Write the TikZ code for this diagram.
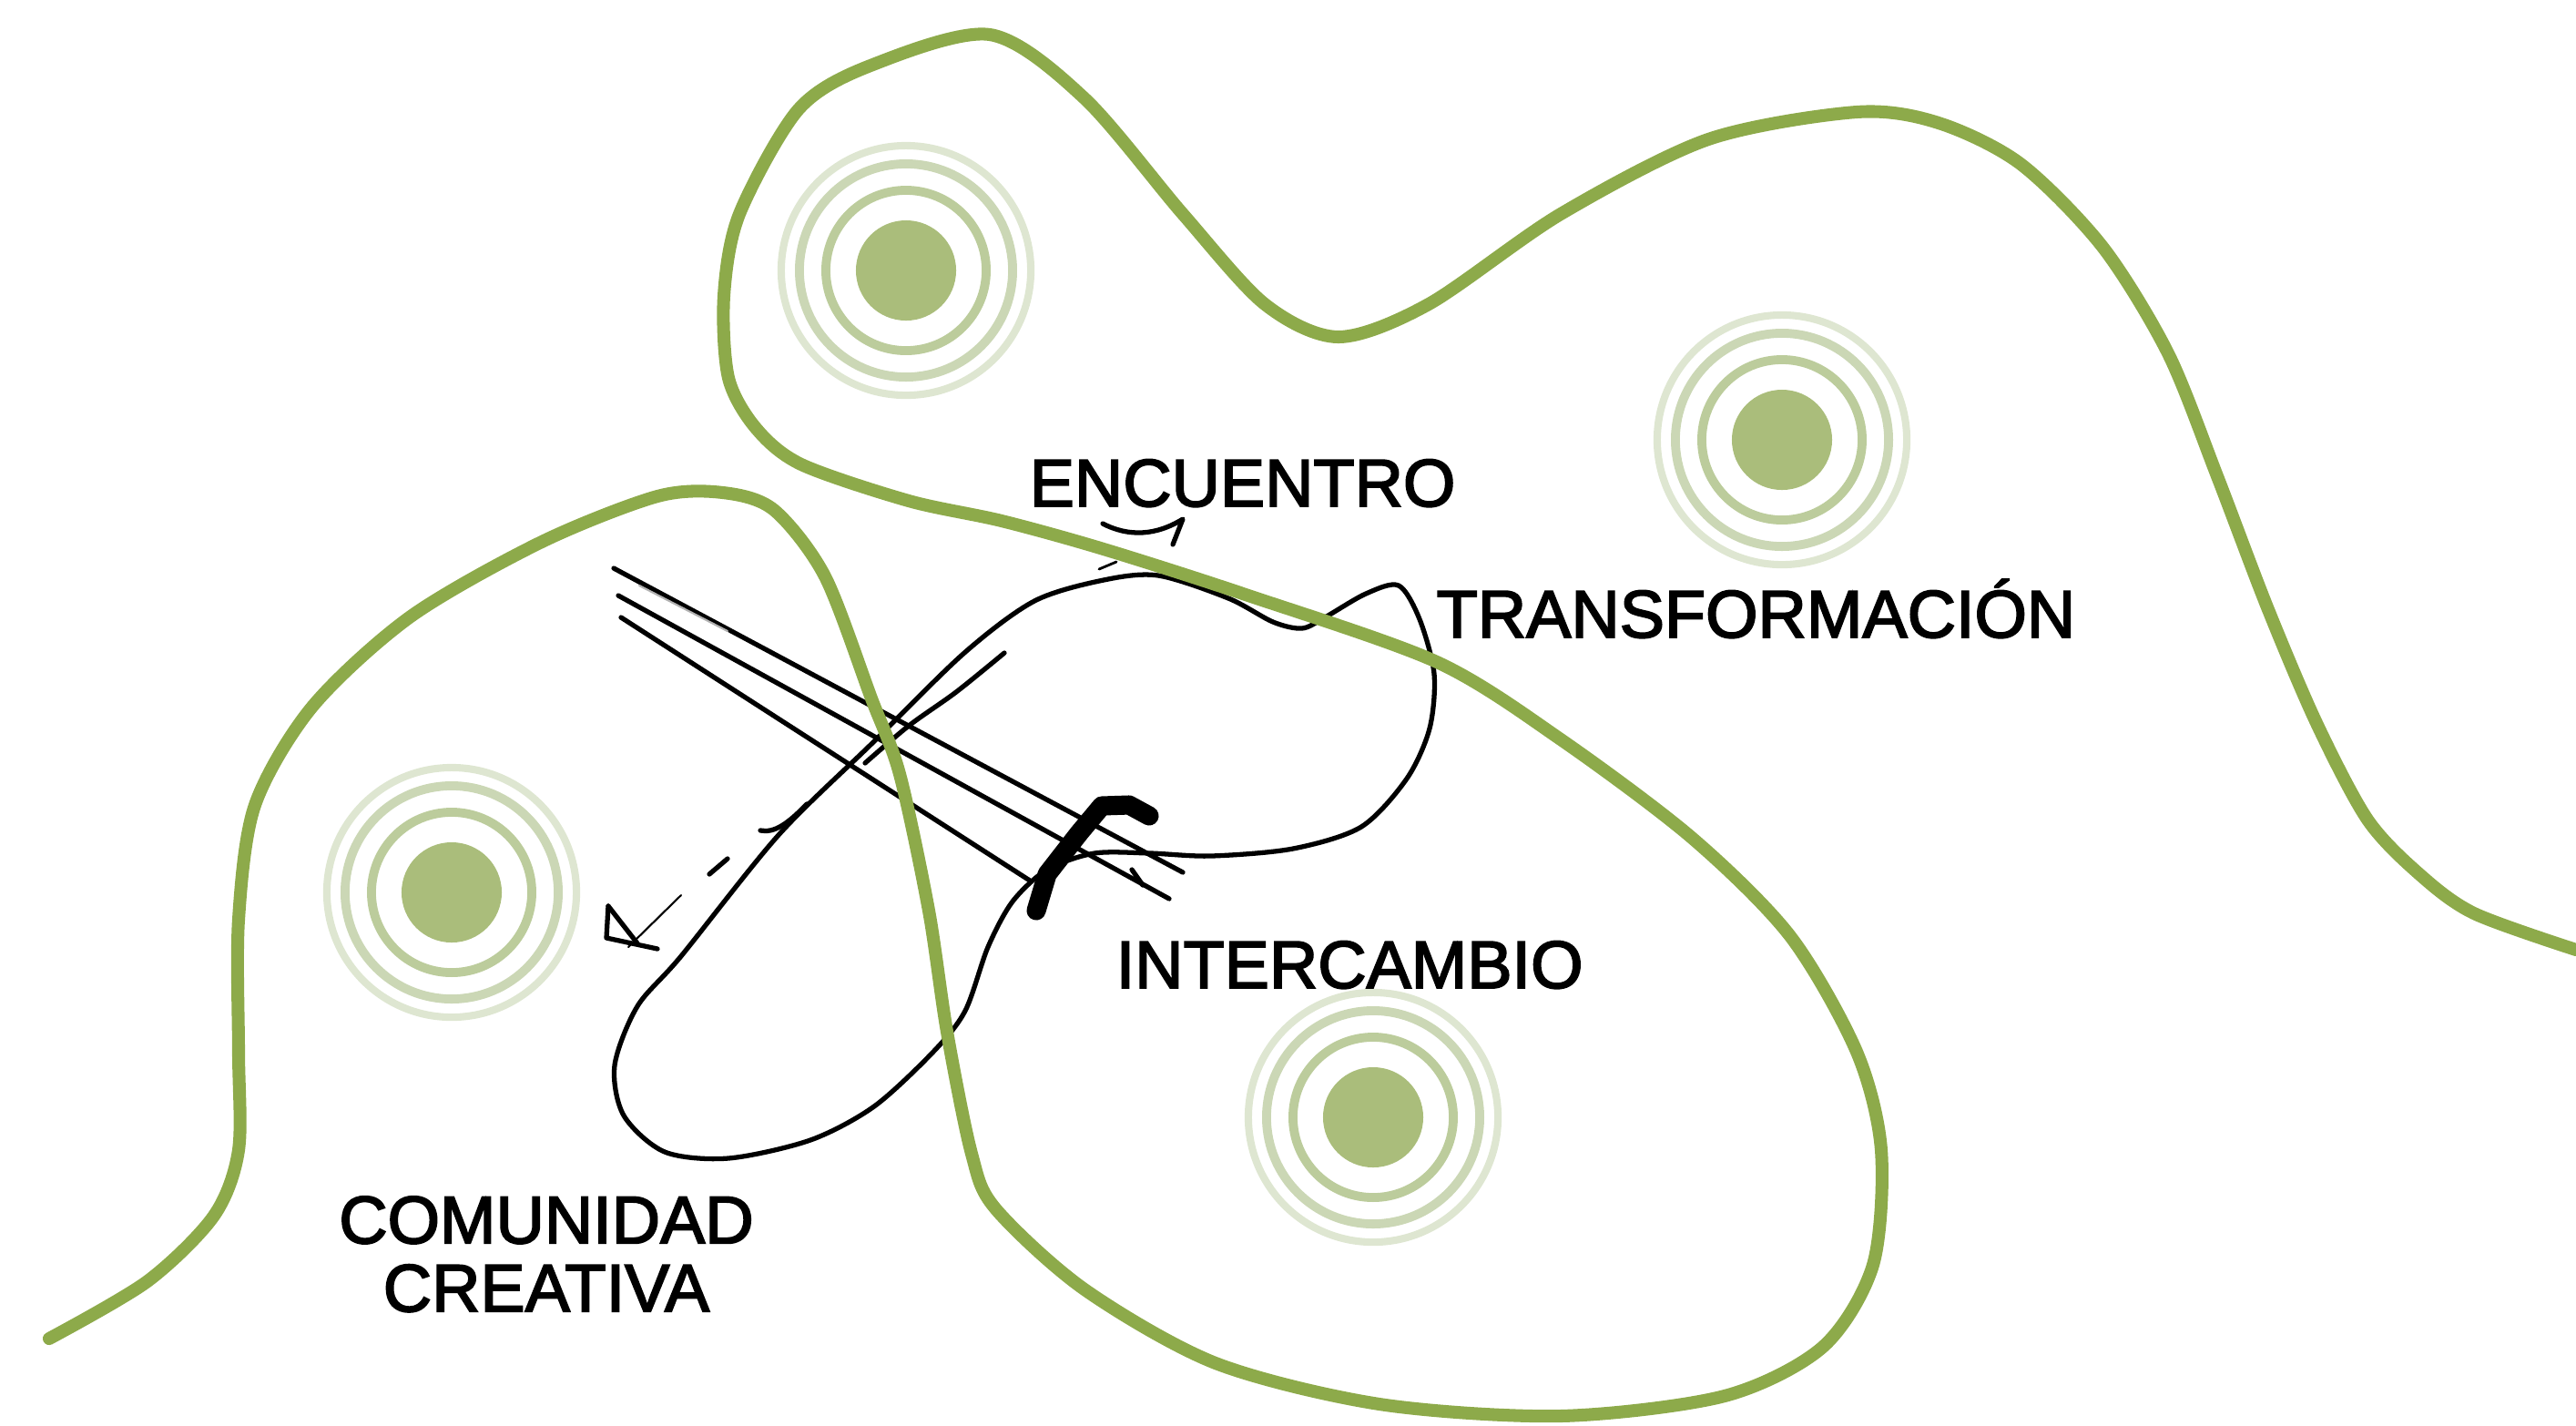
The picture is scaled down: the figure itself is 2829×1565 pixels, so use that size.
\documentclass[tikz,border=0pt]{standalone}
\usepackage{fontspec}
\setmainfont{Liberation Sans}
\newfontfamily\wordfont{Liberation Sans}[FakeBold=2.5]
\usetikzlibrary{calc}

\definecolor{leaf}{RGB}{141,170,74}
\definecolor{dotgreen}{RGB}{170,189,123}
\definecolor{ringone}{RGB}{188,204,156}
\definecolor{ringtwo}{RGB}{203,215,181}
\definecolor{ringthree}{RGB}{222,230,209}

\tikzset{
  word/.style={font=\wordfont\fontsize{21}{21.3}\selectfont, inner sep=0pt},
  sketch/.style={black, line width=1.5pt, line cap=round, line join=round},
  boundary/.style={leaf, line width=4pt, line cap=round, line join=round},
}

\begin{document}
\begin{tikzpicture}[x=0.01cm,y=-0.01cm]
\useasboundingbox (0,0) rectangle (2829,1565);
% targets
\foreach \cx/\cy in {995/297, 1957/483, 496/980, 1508/1227}{
  \fill[dotgreen] (\cx,\cy) circle[radius=0.55cm];
  \draw[ringone, line width=2.8pt] (\cx,\cy) circle[radius=0.88cm];
  \draw[ringtwo, line width=2.8pt] (\cx,\cy) circle[radius=1.17cm];
  \draw[ringthree, line width=2.3pt] (\cx,\cy) circle[radius=1.37cm];
}
% sketch
\draw[sketch] plot[smooth cycle] coordinates {(1136,660) (1212,637) (1272,632) (1349,657) (1398,683) (1430,690) (1455,678) (1500,652) (1536,643) (1559,680) (1575,740) (1570,800) (1545,855) (1495,908) (1420,932) (1330,940) (1263,937) (1202,937) (1150,955) (1112,990) (1085,1040) (1060,1110) (1025,1155) (960,1215) (890,1252) (800,1272) (730,1265) (685,1225) (675,1170) (700,1105) (748,1050) (855,917) (957,817) (1059,717)};
\draw[sketch] (674,624) -- (1299,958);
\draw[sketch] (679,654) -- (1284,987);
\draw[sketch] (682,678) -- (1131,967);
\draw[sketch, gray!60, line width=0.6pt] (702,643) -- (799,693);
\draw[sketch] (1243,955) -- (1255,972);
\draw[sketch] plot[smooth] coordinates {(1103,717) (1050,760) (998,797) (950,838)};
\draw[sketch] (835,912) .. controls (850,915) and (865,905) .. (886,883);
\draw[sketch] (779,960) -- (799,943);
\draw[sketch] (668,995) -- (666,1030) -- (722,1042);
\draw[sketch] (668,995) -- (700,1036);
\draw[sketch, line width=0.6pt] (690,1040) -- (748,983);
\draw[sketch, line width=6pt] (1138,1000) -- (1150,960) -- (1185,915) -- (1210,885) -- (1240,884) -- (1262,896);
\draw[sketch] (1211,575) .. controls (1240,590) and (1270,588) .. (1299,570) -- (1288,598);
\draw[sketch, line width=0.8pt] (1207,625) -- (1226,617);
% boundary
\draw[boundary] plot[smooth] coordinates {(2829,1043) (2717,1003) (2657,960) (2600,900) (2544,794) (2490,667) (2435,523) (2381,388) (2309,271) (2219,180) (2129,135) (2039,123) (1876,153) (1714,235) (1569,334) (1470,370) (1389,334) (1299,235) (1191,108) (1087,38) (956,72) (877,120) (812,235) (795,325) (800,415) (830,470) (880,510) (998,550) (1100,572) (1212,603) (1368,653) (1578,727) (1714,812) (1858,920) (1966,1028) (2039,1155) (2066,1263) (2057,1389) (2002,1479) (1894,1533) (1714,1555) (1515,1542) (1335,1497) (1191,1416) (1093,1327) (1067,1267) (1040,1133) (1020,1000) (988,850) (957,767) (906,633) (850,560) (794,541) (722,545) (595,595) (451,677) (343,776) (280,884) (262,1010) (262,1155) (262,1263) (235,1335) (162,1407) (54,1470)};
% labels
\node[word, anchor=base west] (encuentro) at (1130,556) {ENCUENTRO};
\node[word, anchor=base west] (transformacion) at (1577,700) {TRANSFORMACIÓN};
\node[word, anchor=base west] (intercambio) at (1225,1085) {INTERCAMBIO};
\node[word, anchor=north, align=center] (comunidad) at (600,1313) {COMUNIDAD\\CREATIVA};
\end{tikzpicture}
\end{document}
